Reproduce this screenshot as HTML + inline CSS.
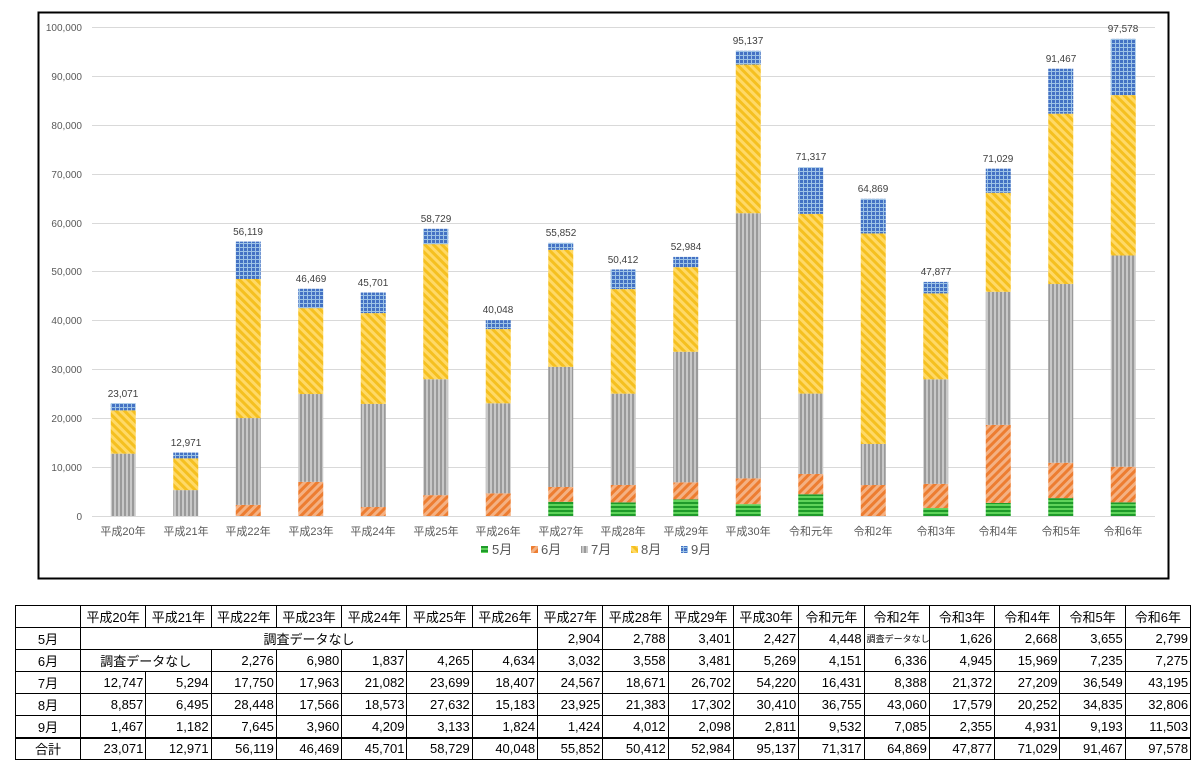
<!DOCTYPE html>
<html><head><meta charset="utf-8">
<style>
body{margin:0;background:#fff;width:1203px;height:770px;position:relative;overflow:hidden;font-family:"Liberation Sans","Noto Sans CJK JP",sans-serif;}
#chart{position:absolute;left:0;top:0;}
table{position:absolute;left:15px;top:605px;width:1175px;border-collapse:collapse;table-layout:fixed;font-size:13px;color:#000;}
tr{height:22px;}
td{border:1px solid #000;padding:0 2px;text-align:right;white-space:nowrap;overflow:hidden;}
td.c{text-align:center;}
tr.tot td{border-top:2px solid #000;}
</style></head><body>
<svg id="chart" width="1203" height="600" xmlns="http://www.w3.org/2000/svg" font-family="Liberation Sans, Noto Sans CJK JP, sans-serif">
<defs>
<pattern id="p5" width="4" height="4" patternUnits="userSpaceOnUse"><rect width="4" height="4" fill="#1e9a2a"/><rect width="4" height="2" fill="#5fd35a"/></pattern>
<pattern id="p6" width="6" height="6" patternUnits="userSpaceOnUse" patternTransform="rotate(45)"><rect width="6" height="6" fill="#f4b183"/><rect width="3" height="6" fill="#ed7d31"/></pattern>
<pattern id="p7" width="4" height="4" patternUnits="userSpaceOnUse"><rect width="4" height="4" fill="#c8c8c8"/><rect width="2" height="4" fill="#9a9a9a"/></pattern>
<pattern id="p8" width="6" height="6" patternUnits="userSpaceOnUse" patternTransform="rotate(-45)"><rect width="6" height="6" fill="#ffd966"/><rect width="3" height="6" fill="#f5c020"/></pattern>
<pattern id="p9" width="4" height="4" patternUnits="userSpaceOnUse"><rect width="4" height="4" fill="#9dc3e6"/><rect width="3" height="3" fill="#4472c4"/></pattern>
</defs>
<rect x="38.5" y="12.5" width="1130" height="566" fill="#fff" stroke="#000" stroke-width="2"/>
<g stroke="#d9d9d9" stroke-width="1">
<line x1="92" x2="1155" y1="27.5" y2="27.5"/><line x1="92" x2="1155" y1="76.5" y2="76.5"/><line x1="92" x2="1155" y1="125.5" y2="125.5"/><line x1="92" x2="1155" y1="174.5" y2="174.5"/><line x1="92" x2="1155" y1="223.5" y2="223.5"/><line x1="92" x2="1155" y1="271.5" y2="271.5"/><line x1="92" x2="1155" y1="320.5" y2="320.5"/><line x1="92" x2="1155" y1="369.5" y2="369.5"/><line x1="92" x2="1155" y1="418.5" y2="418.5"/><line x1="92" x2="1155" y1="467.5" y2="467.5"/><line x1="92" x2="1155" y1="516.5" y2="516.5"/>
</g>
<g font-size="10" fill="#595959" text-anchor="end">
<text x="82" y="31">100,000</text><text x="82" y="80">90,000</text><text x="82" y="129">80,000</text><text x="82" y="178">70,000</text><text x="82" y="227">60,000</text><text x="82" y="275">50,000</text><text x="82" y="324">40,000</text><text x="82" y="373">30,000</text><text x="82" y="422">20,000</text><text x="82" y="471">10,000</text><text x="82" y="520">0</text>
</g>
<g id="bars"></g>
<g font-size="10" fill="#404040" text-anchor="middle">
<text x="123" y="397">23,071</text><text x="186" y="446">12,971</text><text x="248" y="235">56,119</text><text x="311" y="282">46,469</text><text x="373" y="286">45,701</text><text x="436" y="222">58,729</text><text x="498" y="313">40,048</text><text x="561" y="236">55,852</text><text x="623" y="263">50,412</text><text x="686" y="250">52,984</text><text x="748" y="44">95,137</text><text x="811" y="160">71,317</text><text x="873" y="192">64,869</text><text x="936" y="275">47,877</text><text x="998" y="162">71,029</text><text x="1061" y="62">91,467</text><text x="1123" y="32">97,578</text>
</g>
<g font-size="11" fill="#595959" text-anchor="middle">
<text x="123" y="535">平成20年</text><text x="186" y="535">平成21年</text><text x="248" y="535">平成22年</text><text x="311" y="535">平成23年</text><text x="373" y="535">平成24年</text><text x="436" y="535">平成25年</text><text x="498" y="535">平成26年</text><text x="561" y="535">平成27年</text><text x="623" y="535">平成28年</text><text x="686" y="535">平成29年</text><text x="748" y="535">平成30年</text><text x="811" y="535">令和元年</text><text x="873" y="535">令和2年</text><text x="936" y="535">令和3年</text><text x="998" y="535">令和4年</text><text x="1061" y="535">令和5年</text><text x="1123" y="535">令和6年</text>
</g>
<g font-size="13" fill="#595959">
<rect x="481" y="546" width="7" height="7" fill="url(#p5)"/><text x="492" y="554">5月</text>
<rect x="531" y="546" width="7" height="7" fill="url(#p6)"/><text x="541" y="554">6月</text>
<rect x="581" y="546" width="7" height="7" fill="url(#p7)"/><text x="591" y="554">7月</text>
<rect x="631" y="546" width="7" height="7" fill="url(#p8)"/><text x="641" y="554">8月</text>
<rect x="681" y="546" width="7" height="7" fill="url(#p9)"/><text x="691" y="554">9月</text>
</g>
</svg>
<script>
var d=[[0,0,12747,8857,1467],[0,0,5294,6495,1182],[0,2276,17750,28448,7645],[0,6980,17963,17566,3960],[0,1837,21082,18573,4209],[0,4265,23699,27632,3133],[0,4634,18407,15183,1824],[2904,3032,24567,23925,1424],[2788,3558,18671,21383,4012],[3401,3481,26702,17302,2098],[2427,5269,54220,30410,2811],[4448,4151,16431,36755,9532],[0,6336,8388,43060,7085],[1626,4945,21372,17579,2355],[2668,15969,27209,20252,4931],[3655,7235,36549,34835,9193],[2799,7275,43195,32806,11503]];
var g=document.getElementById('bars'),s='';
for(var i=0;i<17;i++){var c=123.25+62.5*i,acc=0;for(var k=0;k<5;k++){var v=d[i][k];if(!v)continue;var y0=516-acc*0.00489;acc+=v;var y1=516-acc*0.00489;s+='<rect x="'+(c-12.5)+'" y="'+y1+'" width="25" height="'+(y0-y1)+'" fill="url(#p'+(k+5)+')"/>';}}
g.innerHTML=s;
</script>
<table>
<colgroup><col style="width:65px"><col span="17" style="width:65.3px"></colgroup>
<tr><td></td><td class="c">平成20年</td><td class="c">平成21年</td><td class="c">平成22年</td><td class="c">平成23年</td><td class="c">平成24年</td><td class="c">平成25年</td><td class="c">平成26年</td><td class="c">平成27年</td><td class="c">平成28年</td><td class="c">平成29年</td><td class="c">平成30年</td><td class="c">令和元年</td><td class="c">令和2年</td><td class="c">令和3年</td><td class="c">令和4年</td><td class="c">令和5年</td><td class="c">令和6年</td></tr>
<tr><td class="c">5月</td><td class="c" colspan="7">調査データなし</td><td>2,904</td><td>2,788</td><td>3,401</td><td>2,427</td><td>4,448</td><td class="c" style="font-size:9px">調査データなし</td><td>1,626</td><td>2,668</td><td>3,655</td><td>2,799</td></tr>
<tr><td class="c">6月</td><td class="c" colspan="2">調査データなし</td><td>2,276</td><td>6,980</td><td>1,837</td><td>4,265</td><td>4,634</td><td>3,032</td><td>3,558</td><td>3,481</td><td>5,269</td><td>4,151</td><td>6,336</td><td>4,945</td><td>15,969</td><td>7,235</td><td>7,275</td></tr>
<tr><td class="c">7月</td><td>12,747</td><td>5,294</td><td>17,750</td><td>17,963</td><td>21,082</td><td>23,699</td><td>18,407</td><td>24,567</td><td>18,671</td><td>26,702</td><td>54,220</td><td>16,431</td><td>8,388</td><td>21,372</td><td>27,209</td><td>36,549</td><td>43,195</td></tr>
<tr><td class="c">8月</td><td>8,857</td><td>6,495</td><td>28,448</td><td>17,566</td><td>18,573</td><td>27,632</td><td>15,183</td><td>23,925</td><td>21,383</td><td>17,302</td><td>30,410</td><td>36,755</td><td>43,060</td><td>17,579</td><td>20,252</td><td>34,835</td><td>32,806</td></tr>
<tr><td class="c">9月</td><td>1,467</td><td>1,182</td><td>7,645</td><td>3,960</td><td>4,209</td><td>3,133</td><td>1,824</td><td>1,424</td><td>4,012</td><td>2,098</td><td>2,811</td><td>9,532</td><td>7,085</td><td>2,355</td><td>4,931</td><td>9,193</td><td>11,503</td></tr>
<tr class="tot"><td class="c">合計</td><td>23,071</td><td>12,971</td><td>56,119</td><td>46,469</td><td>45,701</td><td>58,729</td><td>40,048</td><td>55,852</td><td>50,412</td><td>52,984</td><td>95,137</td><td>71,317</td><td>64,869</td><td>47,877</td><td>71,029</td><td>91,467</td><td>97,578</td></tr>
</table>
</body></html>
